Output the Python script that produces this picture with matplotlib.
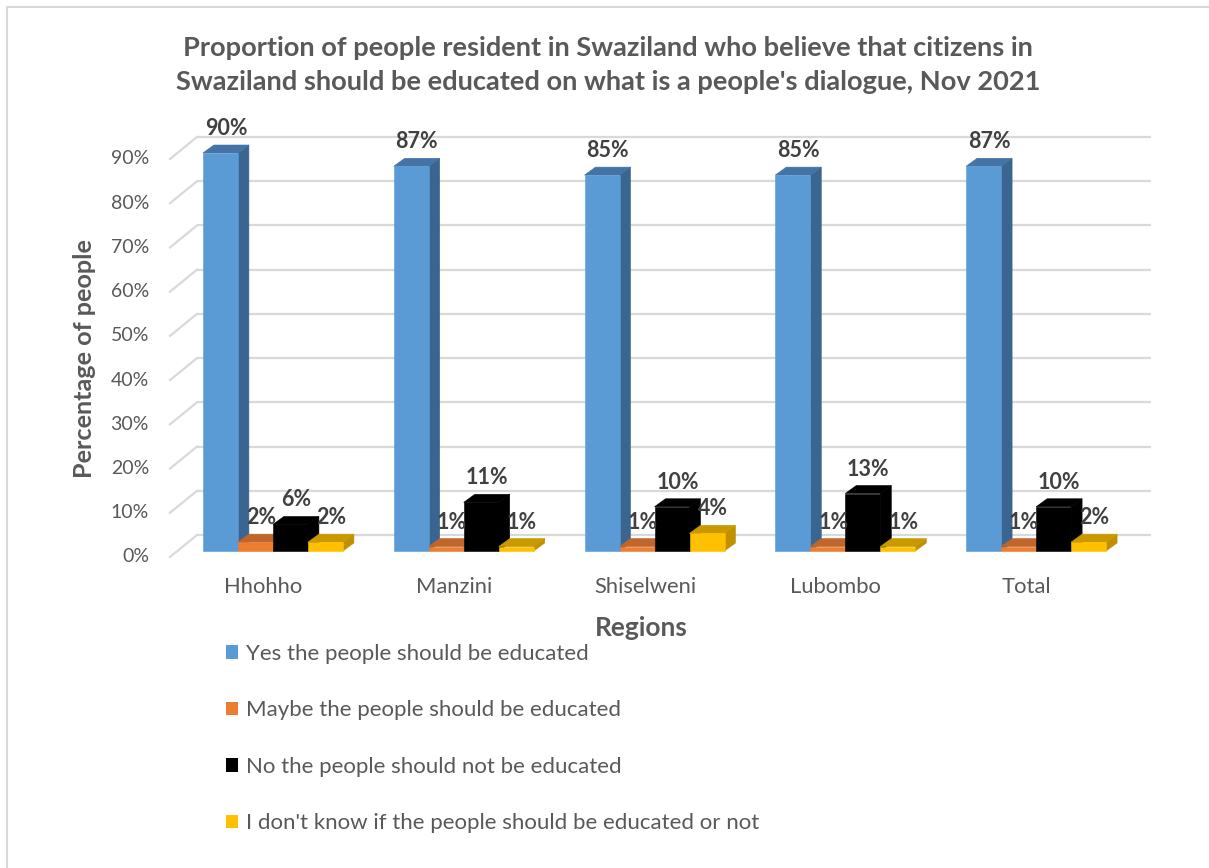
import matplotlib.pyplot as plt
from matplotlib.patches import Polygon, Rectangle, Patch

plt.rcParams['font.family'] = ['Lato', 'DejaVu Sans']

# data
regions = ['Hhohho', 'Manzini', 'Shiselweni', 'Lubombo', 'Total']
yes_vals = [90, 87, 85, 85, 87]
maybe_vals = [2, 1, 1, 1, 1]
no_vals = [6, 11, 10, 13, 10]
dont_know_vals = [2, 1, 4, 1, 2]
series_names = ['Yes the people should be educated',
                'Maybe the people should be educated',
                'No the people should not be educated',
                "I don't know if the people should be educated or not"]
y_ticks = [0, 10, 20, 30, 40, 50, 60, 70, 80, 90]

# front colour, side colour, top colour
colours = [('#5b9bd5', '#3a6590', '#4374a5'),
           ('#ed7d31', '#b35e24', '#c0662a'),
           ('#000000', '#000000', '#000000'),
           ('#ffc000', '#bf9000', '#c99a00')]

W, H = 1209, 868
fig = plt.figure(figsize=(W / 100, H / 100), dpi=100)

# chart border (only top and left visible in the crop)
fig.add_artist(Rectangle((7 / W, -0.1), 1.2, (H - 7) / H + 0.1, transform=fig.transFigure,
                         fill=False, edgecolor='#d9d9d9', lw=1.5))

# front plane of the floor
x0_px, x1_px, y0_px, y1_px = 170, 1124, 557, 159
ax = fig.add_axes([x0_px / W, (H - y0_px) / H, (x1_px - x0_px) / W, (y0_px - y1_px) / H])
ax.set_xlim(-0.5, 4.5)
ax.set_ylim(0, 90)
ax.axis('off')

px_x = 5 / (x1_px - x0_px)
px_y = 90 / (y0_px - y1_px)

wall_dx, wall_dy = 27 * px_x, 22 * px_y
shift_dx, shift_dy = 7.5 * px_x, 6 * px_y
bar_dx, bar_dy = 11 * px_x, 8 * px_y
bar_w = 35 * px_x

grid_c = '#d9d9d9'
for t in y_ticks:
    ax.plot([-0.5 + wall_dx, 4.5 + wall_dx], [t + wall_dy] * 2, color=grid_c, lw=1.6,
            zorder=1, clip_on=False, solid_capstyle='butt')
    ax.plot([-0.5, -0.5 + wall_dx], [t, t + wall_dy], color=grid_c, lw=1.6,
            zorder=1, clip_on=False)
    ax.text(-0.5 - 21 * px_x, t, f'{t}%', ha='right', va='center', fontsize=14,
            color='#595959')

all_vals = [yes_vals, maybe_vals, no_vals, dont_know_vals]
z = 2
for gi, name in enumerate(regions):
    for si, vals in enumerate(all_vals):
        v = vals[gi]
        front, side, top_c = colours[si]
        left = gi - 2 * bar_w + si * bar_w + shift_dx
        bottom = shift_dy
        top = v + shift_dy
        right = left + bar_w
        ax.add_patch(Polygon([(right, bottom), (right + bar_dx, bottom + bar_dy),
                              (right + bar_dx, top + bar_dy), (right, top)],
                             facecolor=side, edgecolor=side, lw=0.4, zorder=z, clip_on=False))
        ax.add_patch(Polygon([(left, top), (left + bar_dx, top + bar_dy),
                              (right + bar_dx, top + bar_dy), (right, top)],
                             facecolor=top_c, edgecolor=top_c, lw=0.4, zorder=z, clip_on=False))
        ax.add_patch(Rectangle((left, bottom), bar_w, v, facecolor=front,
                               edgecolor=front, lw=0.4, zorder=z, clip_on=False))
        z += 1
        ax.text(left + bar_w / 2 + bar_dx / 2, top + bar_dy + 6 * px_y, f'{v}%',
                ha='center', va='bottom', fontsize=15.5, fontweight='bold',
                color='#404040', zorder=50)
    ax.text(gi - 2 * px_x, -20 * px_y, name, ha='center', va='top', fontsize=15.8,
            color='#595959')

fig.text(608 / W, 1 - 65 / H,
         "Proportion of people resident in Swaziland who believe that citizens in\n"
         "Swaziland should be educated on what is a people's dialogue, Nov 2021",
         ha='center', va='center', fontsize=19.6, fontweight='bold', color='#595959',
         linespacing=1.45)
fig.text(85 / W, 1 - 359 / H, 'Percentage of people', rotation=90, ha='center',
         va='center', fontsize=18.2, fontweight='bold', color='#595959')
fig.text(641 / W, 1 - 628 / H, 'Regions', ha='center', va='center', fontsize=19,
         fontweight='bold', color='#595959')

handles = [Patch(facecolor=c[0], edgecolor='none') for c in colours]
fig.legend(handles, series_names, loc='upper left', bbox_to_anchor=(226 / W, 1 - 644 / H),
           frameon=False, fontsize=16, handlelength=0.55, handleheight=0.55,
           handletextpad=0.35, labelspacing=1.64, borderpad=0, borderaxespad=0,
           labelcolor='#595959')

fig.savefig('out.png', dpi=100)
